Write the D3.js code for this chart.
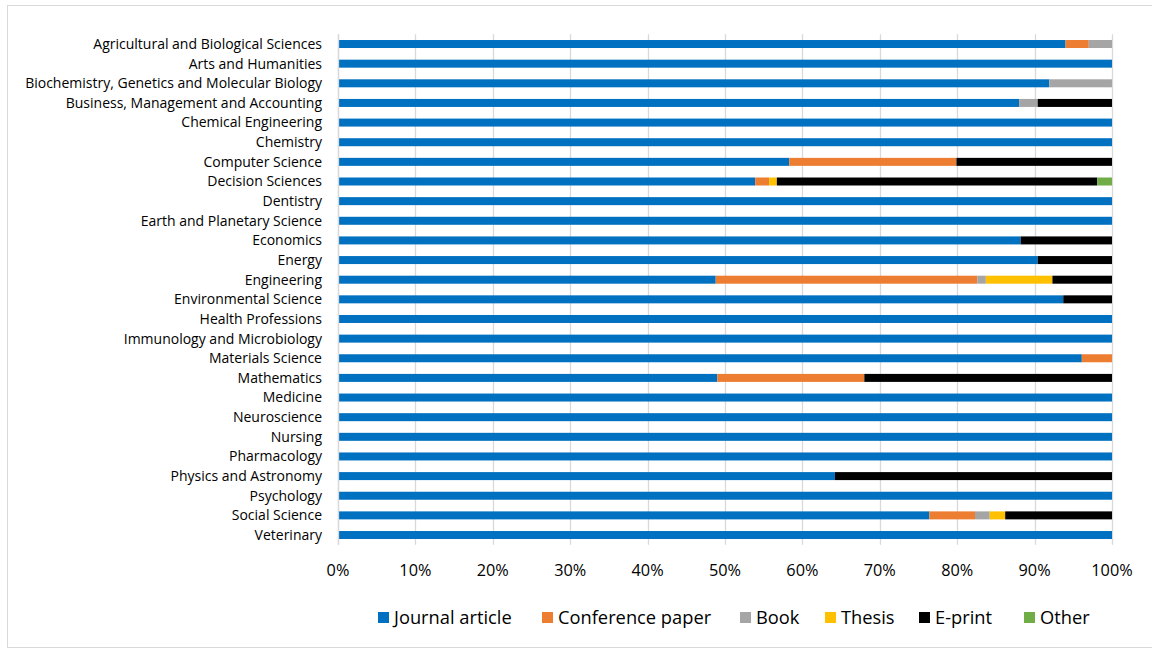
<!DOCTYPE html>
<html><head><meta charset="utf-8">
<script src="https://cdn.jsdelivr.net/npm/d3@7"></script>
<style>body{margin:0;background:#fff;font-family:"Open Sans",sans-serif;}</style>
</head><body>
<svg id="c" width="1152" height="651"></svg>
<script>
const categories = ["Agricultural and Biological Sciences","Arts and Humanities","Biochemistry, Genetics and Molecular Biology","Business, Management and Accounting","Chemical Engineering","Chemistry","Computer Science","Decision Sciences","Dentistry","Earth and Planetary Science","Economics","Energy","Engineering","Environmental Science","Health Professions","Immunology and Microbiology","Materials Science","Mathematics","Medicine","Neuroscience","Nursing","Pharmacology","Physics and Astronomy","Psychology","Social Science","Veterinary"];
const seriesNames = ["Journal article","Conference paper","Book","Thesis","E-print","Other"];
const journal    = [94,100,91.9,88,100,100,58.3,53.9,100,100,88.2,90.4,48.8,93.7,100,100,96.1,49,100,100,100,100,64.2,100,76.4,100];
const conference = [3,0,0,0,0,0,21.6,1.8,0,0,0,0,33.8,0,0,0,3.9,19,0,0,0,0,0,0,5.9,0];
const book       = [3,0,8.1,2.4,0,0,0,0,0,0,0,0,1.1,0,0,0,0,0,0,0,0,0,0,0,1.9,0];
const thesis     = [0,0,0,0,0,0,0,1,0,0,0,0,8.6,0,0,0,0,0,0,0,0,0,0,0,2,0];
const eprint     = [0,0,0,9.6,0,0,20.1,41.4,0,0,11.8,9.6,7.7,6.3,0,0,0,32,0,0,0,0,35.8,0,13.8,0];
const other      = [0,0,0,0,0,0,0,1.9,0,0,0,0,0,0,0,0,0,0,0,0,0,0,0,0,0,0];
const tickLabels = ["0%","10%","20%","30%","40%","50%","60%","70%","80%","90%","100%"];
const colors = ["#0070C0","#ED7D31","#A5A5A5","#FFC000","#000000","#70AD47"];

const seriesArrays = [journal,conference,book,thesis,eprint,other];
const rows = categories.map((c,i)=>{const o={cat:c}; seriesNames.forEach((s,j)=>o[s]=seriesArrays[j][i]); return o;});
const stack = d3.stack().keys(seriesNames).offset(d3.stackOffsetExpand)(rows);

const svg = d3.select("#c");
svg.append("rect").attr("x",7.5).attr("y",5.5).attr("width",1150).attr("height",642)
  .attr("fill","#fff").attr("stroke","#d9d9d9");

const x = d3.scaleLinear().domain([0,1]).range([338,1112]);
const plotTop=34.2, step=19.64, plotBot=plotTop+26*step;
const y = d3.scaleBand().domain(categories).range([plotTop, plotBot]).paddingInner(0.593).paddingOuter(0.2965);

// gridlines
svg.append("g").selectAll("line").data(d3.range(0,11).map(i=>i/10)).join("line")
  .attr("x1",d=>Math.round(x(d))+0.5).attr("x2",d=>Math.round(x(d))+0.5)
  .attr("y1",plotTop).attr("y2",plotBot)
  .attr("stroke","#d9d9d9").attr("stroke-width",1.3);

// bars
svg.append("g").selectAll("g").data(stack).join("g")
  .attr("fill",(d,i)=>colors[i])
  .selectAll("rect").data(d=>d).join("rect")
  .attr("x",d=>x(d[0])).attr("width",d=>Math.max(0,x(d[1])-x(d[0])))
  .attr("y",d=>y(d.data.cat)).attr("height",y.bandwidth());

// axis line
svg.append("line").attr("x1",338.5).attr("x2",338.5).attr("y1",plotTop).attr("y2",plotBot)
  .attr("stroke","#d9d9d9").attr("stroke-width",1.3);

// category labels
svg.append("g").selectAll("text").data(categories).join("text")
  .attr("x",322).attr("y",d=>y(d)+y.bandwidth()/2).attr("dy","0.35em")
  .attr("text-anchor","end").attr("font-size",14).attr("fill","#000")
  .text(d=>d);

// tick labels
svg.append("g").selectAll("text").data(tickLabels).join("text")
  .attr("x",(d,i)=>x(i/10)).attr("y",575.5).attr("text-anchor","middle")
  .attr("font-size",16.3).attr("fill","#000").text(d=>d);

// legend
const legX = [378,542,740,825,919,1024];
const leg = svg.append("g").selectAll("g").data(seriesNames).join("g")
  .attr("transform",(d,i)=>`translate(${legX[i]},612)`);
leg.append("rect").attr("width",11).attr("height",11).attr("fill",(d,i)=>colors[i]);
leg.append("text").attr("x",16).attr("y",6).attr("dy","0.35em").attr("font-size",18.3).attr("fill","#000").text(d=>d);
</script>
</body></html>
